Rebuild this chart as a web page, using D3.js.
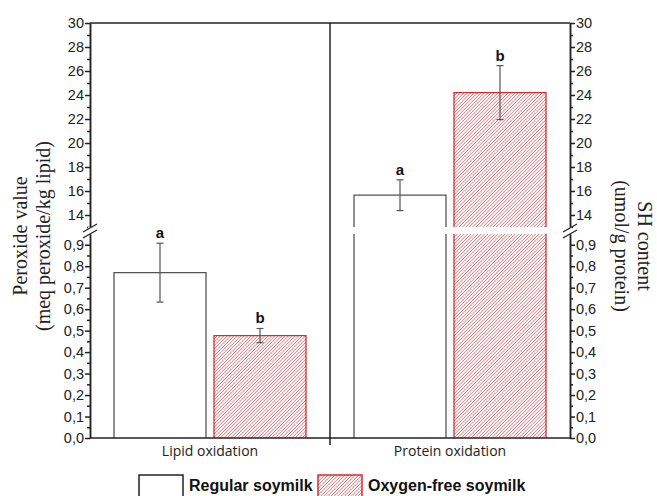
<!DOCTYPE html>
<html lang="en">
<head>
<meta charset="UTF-8">
<script src="https://d3js.org/d3.v7.min.js"></script>
<title>Soymilk oxidation</title>
<style>
  body { margin: 0; padding: 0; background: #fff; }
  svg { display: block; }
</style>
</head>
<body>
<script>
// data
var categories = ['Lipid oxidation', 'Protein oxidation'];
var seriesNames = ['Regular soymilk', 'Oxygen-free soymilk'];
var regularValues = [0.77, 15.65];
var regularErrors = [0.137, 1.28];
var oxygenFreeValues = [0.477, 24.2];
var oxygenFreeErrors = [0.033, 2.25];
var regularLetters = ['a', 'a'];
var oxygenFreeLetters = ['b', 'b'];
var upperTicks = [14, 16, 18, 20, 22, 24, 26, 28, 30];
var lowerTicks = [0, 0.1, 0.2, 0.3, 0.4, 0.5, 0.6, 0.7, 0.8, 0.9];

var W = 657, H = 496;
var plotLeft = 90, plotRight = 570, plotTop = 23, plotBottom = 438;
var breakLow = 0.95, breakHigh = 13;
var red = '#e0282e';
var hatchColor = '#e34a4f';

var svg = d3.select('body').append('svg')
    .attr('width', W)
    .attr('height', H);
var defs = svg.append('defs');
var clipId = 0;

// hatched rect: diagonal lines clipped to the box
function hatchRect(parent, rx, ry, rw, rh) {
    var id = 'clip' + (clipId++);
    defs.append('clipPath').attr('id', id)
        .append('rect').attr('x', rx).attr('y', ry).attr('width', rw).attr('height', rh);
    var g = parent.append('g').attr('clip-path', 'url(#' + id + ')');
    g.append('rect').attr('x', rx).attr('y', ry).attr('width', rw).attr('height', rh).attr('fill', '#fff');
    var step = 3.4;
    for (var s = rx - rh; s < rx + rw; s += step) {
        g.append('line')
            .attr('x1', s).attr('y1', ry + rh)
            .attr('x2', s + rh).attr('y2', ry)
            .attr('stroke', hatchColor)
            .attr('stroke-width', 0.8);
    }
}

// two y segments (broken axis)
var yLow = d3.scaleLinear().domain([0, breakLow]).range([plotBottom, 234]);
var yHigh = d3.scaleLinear().domain([breakHigh, 30]).range([227, plotTop]);

var x = d3.scaleBand().domain(categories).range([plotLeft, plotRight])
    .paddingInner(0.2).paddingOuter(0.1);
var xs = d3.scaleBand().domain(seriesNames).range([0, x.bandwidth()])
    .paddingInner(0.08);

var rows = [];
categories.forEach(function (c, i) {
    rows.push({ cat: c, s: seriesNames[0], v: regularValues[i], e: regularErrors[i], l: regularLetters[i] });
    rows.push({ cat: c, s: seriesNames[1], v: oxygenFreeValues[i], e: oxygenFreeErrors[i], l: oxygenFreeLetters[i] });
});

function yOf(v) {
    return v <= breakLow ? yLow(v) : yHigh(Math.max(v, breakHigh));
}

// bars
var bars = svg.append('g');
rows.forEach(function (d) {
    var bx = x(d.cat) + xs(d.s), bw = xs.bandwidth();
    var oxy = d.s === seriesNames[1];
    var stroke = oxy ? red : '#555';
    var broken = d.v > breakLow;
    var segs = broken
        ? [[yLow(breakLow), yLow(0)], [yHigh(d.v), yHigh(breakHigh)]]
        : [[yLow(d.v), yLow(0)]];
    segs.forEach(function (s, k) {
        if (oxy) {
            hatchRect(bars, bx, s[0], bw, s[1] - s[0]);
        } else {
            bars.append('rect')
                .attr('x', bx).attr('y', s[0])
                .attr('width', bw).attr('height', s[1] - s[0])
                .attr('fill', '#fff');
        }
        // outline without the cut edges
        var p = d3.path();
        if (broken && k === 0) {
            p.moveTo(bx, s[0]); p.lineTo(bx, s[1]);
            p.moveTo(bx + bw, s[0]); p.lineTo(bx + bw, s[1]);
        } else {
            p.moveTo(bx, s[1]); p.lineTo(bx, s[0]); p.lineTo(bx + bw, s[0]); p.lineTo(bx + bw, s[1]);
        }
        bars.append('path').attr('d', p.toString())
            .attr('fill', 'none').attr('stroke', stroke).attr('stroke-width', 1.3);
    });

    // error bar
    var cx = bx + bw / 2;
    var yt = yOf(d.v + d.e), yb = yOf(d.v - d.e);
    var eg = bars.append('g').attr('stroke', '#555').attr('stroke-width', 1.2);
    eg.append('line').attr('x1', cx).attr('x2', cx).attr('y1', yt).attr('y2', yb);
    eg.append('line').attr('x1', cx - 3.5).attr('x2', cx + 3.5).attr('y1', yt).attr('y2', yt);
    eg.append('line').attr('x1', cx - 3.5).attr('x2', cx + 3.5).attr('y1', yb).attr('y2', yb);

    bars.append('text')
        .attr('x', cx).attr('y', yt - 5)
        .attr('text-anchor', 'middle')
        .attr('font-family', 'Liberation Sans, Arial, sans-serif')
        .attr('font-weight', 'bold')
        .attr('font-size', 15)
        .attr('fill', '#111')
        .text(d.l);
});

// frame lines
var frame = svg.append('g').attr('stroke', '#222').attr('stroke-width', 1.5);
frame.append('line').attr('x1', plotLeft).attr('x2', plotRight).attr('y1', plotTop).attr('y2', plotTop);
frame.append('line').attr('x1', plotLeft).attr('x2', plotRight).attr('y1', plotBottom).attr('y2', plotBottom);
var divX = x(categories[1]) - x.step() * x.paddingInner() / 2;
frame.append('line').attr('x1', divX).attr('x2', divX).attr('y1', plotTop).attr('y2', plotBottom + 7);

// axes
var fmt = function (v) { return d3.format('.1f')(v).replace('.', ','); };
var tickFont = 'Liberation Sans, Arial, sans-serif';

function drawAxis(xPos, isLeft) {
    var mk = isLeft ? d3.axisLeft : d3.axisRight;
    var g = svg.append('g').attr('transform', 'translate(' + xPos + ',0)');
    g.append('g').call(mk(yHigh).tickValues(upperTicks).tickSize(5).tickSizeOuter(0).tickPadding(1).tickFormat(d3.format('d')));
    g.append('g').call(mk(yLow).tickValues(lowerTicks).tickSize(5).tickSizeOuter(0).tickPadding(1).tickFormat(fmt));
    // minor ticks
    var minorHigh = d3.range(13, 30, 1).filter(function (v) { return upperTicks.indexOf(v) < 0; });
    var minorLow = d3.range(0.05, 0.95, 0.1);
    g.append('g').call(mk(yHigh).tickValues(minorHigh).tickSize(3).tickSizeOuter(0).tickFormat(''));
    g.append('g').call(mk(yLow).tickValues(minorLow).tickSize(3).tickSizeOuter(0).tickFormat(''));
    g.selectAll('.domain, line').attr('stroke', '#222').attr('stroke-width', 1.5);
    g.selectAll('text').attr('font-family', tickFont).attr('font-size', 14.5).attr('fill', '#222');
    // break marks
    g.append('rect').attr('x', -2).attr('y', 227).attr('width', 4).attr('height', 7).attr('fill', '#fff');
    [-3, 3].forEach(function (o) {
        g.append('line')
            .attr('x1', -7).attr('y1', 231 + o + 4)
            .attr('x2', 7).attr('y2', 231 + o - 4)
            .attr('stroke', '#222').attr('stroke-width', 1.3);
    });
}
drawAxis(plotLeft, true);
drawAxis(plotRight, false);

// category labels
svg.append('g').selectAll('text')
    .data(categories)
    .enter()
    .append('text')
    .attr('x', function (d) { return x(d) + x.bandwidth() / 2; })
    .attr('y', 456)
    .attr('text-anchor', 'middle')
    .attr('font-family', 'Open Sans, sans-serif')
    .attr('font-size', 14)
    .attr('fill', '#222')
    .text(function (d) { return d; });

// axis titles
var serif = 'Liberation Serif, Times New Roman, serif';
function title(tx, ty, rot, txt) {
    svg.append('text')
        .attr('transform', 'translate(' + tx + ',' + ty + ') rotate(' + rot + ')')
        .attr('text-anchor', 'middle')
        .attr('font-family', serif).attr('font-size', 20).attr('fill', '#222')
        .text(txt);
}
title(27, 236, -90, 'Peroxide value');
title(50, 236, -90, '(meq peroxide/kg lipid)');
title(638, 246, 90, 'SH content');
title(615, 246, 90, '(umol/g protein)');

// legend
var legendX = [139, 318];
var lg = svg.append('g');
seriesNames.forEach(function (s, i) {
    var oxy = i === 1;
    if (oxy) hatchRect(lg, legendX[i], 475, 44, 26);
    lg.append('rect')
        .attr('x', legendX[i]).attr('y', 475)
        .attr('width', 44).attr('height', 26)
        .attr('fill', 'none')
        .attr('stroke', oxy ? red : '#222')
        .attr('stroke-width', 1.5);
    lg.append('text')
        .attr('x', legendX[i] + 50).attr('y', 491)
        .attr('font-family', 'Liberation Sans, Arial, sans-serif')
        .attr('font-weight', 'bold')
        .attr('font-size', 16)
        .attr('fill', '#111')
        .text(s);
});
</script>
</body>
</html>
